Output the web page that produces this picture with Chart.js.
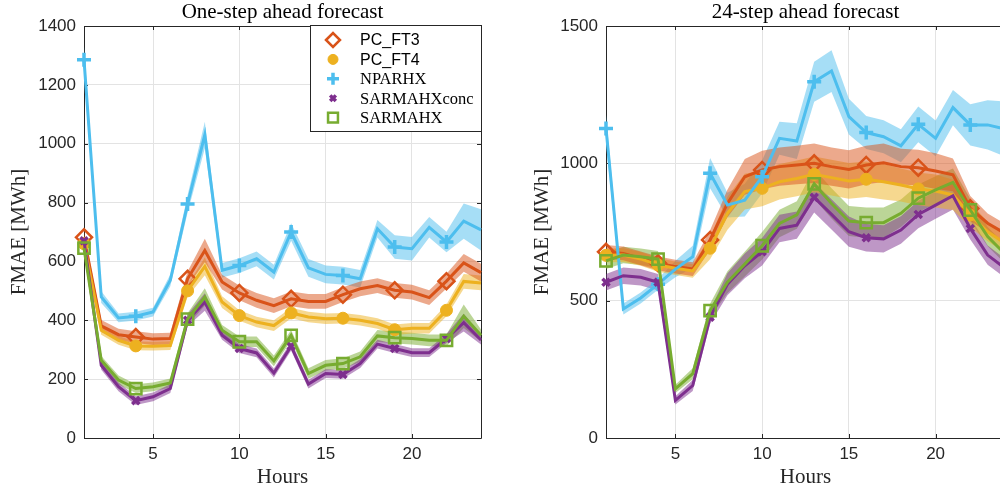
<!DOCTYPE html>
<html>
<head>
<meta charset="utf-8">
<script src="https://cdn.jsdelivr.net/npm/chart.js@4.4.1/dist/chart.umd.min.js"></script>
<style>
  html, body { margin: 0; padding: 0; background: #fff; overflow: hidden; }
  #wrap { position: relative; width: 1000px; height: 491px; overflow: hidden; }
  #left { position: absolute; left: 0; top: 0; }
  #right { position: absolute; left: 500px; top: 0; }
</style>
</head>
<body>
<div id="wrap">
  <canvas id="left" width="500" height="491"></canvas>
  <canvas id="right" width="520" height="491"></canvas>
</div>
<script>
// hours on the x axis
const hours = [1,2,3,4,5,6,7,8,9,10,11,12,13,14,15,16,17,18,19,20,21,22,23,24];
const xTicks = [5, 10, 15, 20];
const leftYTicks = [0, 200, 400, 600, 800, 1000, 1200, 1400];
const rightYTicks = [0, 500, 1000, 1500];
const seriesNames = ['PC_FT3', 'PC_FT4', 'NPARHX', 'SARMAHXconc', 'SARMAHX'];

// one-step ahead forecast (left)
const oneFT3   = [682,381,351,343,336,338,541,637,530,493,468,450,473,464,464,487,507,518,502,496,477,533,595,562];
const oneFT4   = [660,366,332,313,312,314,500,583,462,416,394,382,425,411,405,407,400,389,368,373,373,434,532,527];
const oneNPARHX= [1285,479,408,414,428,536,795,1030,570,586,609,564,700,578,556,552,541,711,649,643,716,666,737,707];
const oneConc  = [670,247,174,127,140,168,400,462,349,304,289,221,312,183,219,216,253,319,304,290,290,338,392,333];
const oneSAR   = [645,264,197,168,174,187,404,479,366,327,327,262,349,219,247,253,276,347,341,338,332,332,414,349];
// half width of the shaded bands (left)
const oneFT3Band   = [20,20,20,20,20,20,25,40,25,25,25,25,25,25,25,25,25,25,25,25,25,25,30,30];
const oneFT4Band   = [15,15,15,15,15,15,20,30,20,18,18,18,18,18,18,18,18,18,18,18,18,20,25,25];
const oneNPARHXBand= [45,20,15,15,15,20,30,45,25,25,25,25,30,30,30,30,30,30,40,40,35,35,60,70];
const oneConcBand  = [15,15,15,15,15,15,20,30,15,15,15,15,15,15,15,15,15,15,15,15,15,15,30,15];
const oneSARBand   = [15,15,15,15,15,15,20,30,18,18,18,18,18,18,18,18,18,20,20,20,20,20,40,20];

// 24-step ahead forecast (right)
const dayFT3   = [678,672,654,636,624,615,721,854,951,976,988,994,1000,988,978,994,1002,988,984,972,958,836,782,745];
const dayFT4   = [665,666,652,630,618,608,691,818,897,909,933,945,960,948,936,942,933,921,907,899,885,812,751,709];
const dayNPARHX= [1127,470,510,560,615,660,964,848,866,951,1091,1081,1297,1336,1170,1112,1097,1064,1142,1091,1203,1140,1140,1125];
const dayConc  = [567,591,585,567,137,191,440,560,627,678,763,775,876,814,751,729,725,757,814,848,882,763,666,618];
const daySAR   = [645,666,660,651,179,234,464,567,633,700,781,812,925,854,790,784,784,818,873,903,931,830,733,670];
// half width of the shaded bands (right)
const dayFT3Band   = [25,25,25,25,25,25,35,50,65,70,70,70,72,70,70,70,70,65,65,65,60,45,35,35];
const dayFT4Band   = [25,25,25,25,25,25,40,60,65,65,65,65,65,65,65,65,65,60,60,60,55,45,35,35];
const dayNPARHXBand= [50,20,20,20,30,40,55,45,60,60,60,65,73,76,65,60,60,60,65,65,64,75,90,100];
const dayConcBand  = [30,30,30,30,15,20,25,40,45,50,50,50,55,55,55,50,50,50,50,50,50,40,35,35];
const daySARBand   = [30,30,30,30,15,20,25,40,45,50,50,50,55,55,55,55,55,50,50,50,50,40,35,35];

const colors = ['#D95319', '#EDB120', '#4DBEEE', '#7E2F8E', '#77AC30'];
const markers = [
  { pointStyle: 'rectRot', radius: 8, fill: false, width: 2.5 },
  { pointStyle: 'circle', radius: 6, fill: true, width: 1 },
  { pointStyle: 'cross', radius: 7, fill: false, width: 3.5 },
  { pointStyle: 'crossRot', radius: 5, fill: false, width: 3.5 },
  { pointStyle: 'rect', radius: 8, fill: false, width: 2.5 }
];

const serif = '"Liberation Serif", "Times New Roman", serif';
const sans = '"Liberation Sans", Arial, sans-serif';

function rgba(hex, a) {
  const n = parseInt(hex.slice(1), 16);
  return `rgba(${n >> 16},${(n >> 8) & 255},${n & 255},${a})`;
}

function pts(vals) {
  return vals.map((v, i) => ({ x: hours[i], y: v }));
}

function buildDatasets(values, bands) {
  const sets = [];
  values.forEach((vals, k) => {
    const up = vals.map((v, i) => v + bands[k][i]);
    const lo = vals.map((v, i) => v - bands[k][i]);
    sets.push({ label: '_up' + k, data: pts(up), fill: '+1', backgroundColor: rgba(colors[k], 0.5),
      borderWidth: 0, pointRadius: 0, order: 20 + k });
    sets.push({ label: '_lo' + k, data: pts(lo), fill: false, borderWidth: 0, pointRadius: 0, order: 20 + k });
  });
  values.forEach((vals, k) => {
    const m = markers[k];
    sets.push({
      label: seriesNames[k], data: pts(vals), fill: false,
      borderColor: colors[k], borderWidth: 3, tension: 0, clip: false,
      pointStyle: m.pointStyle,
      pointRadius: ctx => (ctx.dataIndex % 3 === 0 ? m.radius : 0),
      pointBorderWidth: m.width,
      pointBorderColor: colors[k],
      pointBackgroundColor: m.fill ? colors[k] : 'rgba(0,0,0,0)',
      order: 10 - k
    });
  });
  return sets;
}

const frame = {
  id: 'frame',
  beforeDatasetsDraw(chart) {
    const { ctx, chartArea: a, scales: { x, y } } = chart;
    ctx.save();
    ctx.strokeStyle = '#262626';
    ctx.lineWidth = 1;
    ctx.beginPath();
    ctx.rect(Math.round(a.left) + 0.5, Math.round(a.top) + 0.5, Math.round(a.width), Math.round(a.height));
    x.ticks.forEach(t => {
      const p = Math.round(x.getPixelForValue(t.value)) + 0.5;
      ctx.moveTo(p, a.bottom); ctx.lineTo(p, a.bottom - 4);
      ctx.moveTo(p, a.top); ctx.lineTo(p, a.top + 4);
    });
    y.ticks.forEach(t => {
      const p = Math.round(y.getPixelForValue(t.value)) + 0.5;
      ctx.moveTo(a.left, p); ctx.lineTo(a.left + 4, p);
      ctx.moveTo(a.right, p); ctx.lineTo(a.right - 4, p);
    });
    ctx.stroke();
    ctx.restore();
  },
  afterDraw(chart, args, opts) {
    const { ctx, chartArea: a } = chart;
    ctx.save();
    ctx.fillStyle = '#000';
    ctx.font = '21px ' + serif;
    ctx.textAlign = 'center';
    ctx.textBaseline = 'middle';
    ctx.fillText(opts.title, (a.left + a.right) / 2, 12);
    if (opts.legend) {
      const bx = 310, by = 25, bw = a.right - 310, bh = 106;
      ctx.fillStyle = '#fff';
      ctx.fillRect(bx, by, bw, bh);
      ctx.strokeStyle = '#262626';
      ctx.lineWidth = 1;
      ctx.strokeRect(bx + 0.5, by + 0.5, bw, bh);
      seriesNames.forEach((name, k) => {
        const ry = 40 + k * 19.4;
        const m = markers[k];
        ctx.strokeStyle = colors[k];
        ctx.fillStyle = m.fill ? colors[k] : 'rgba(0,0,0,0)';
        ctx.lineWidth = m.width;
        Chart.helpers.drawPoint(ctx, { pointStyle: m.pointStyle, radius: m.radius - 1, rotation: 0, borderWidth: m.width }, 333, ry);
        ctx.fillStyle = '#000';
        ctx.textAlign = 'left';
        ctx.font = (k < 2 ? '16px ' + sans : '16.5px ' + serif);
        ctx.fillText(name, 360, ry + 1);
      });
    }
    ctx.restore();
  }
};

function makeChart(id, values, bands, yTicks, yMax, title, legend, yWidth, titlePad, padRight) {
  return new Chart(document.getElementById(id), {
    type: 'line',
    data: { datasets: buildDatasets(values, bands) },
    options: {
      responsive: false,
      animation: false,
      events: [],
      layout: { padding: { top: 26, right: padRight, left: 0, bottom: 0 } },
      plugins: {
        legend: { display: false },
        tooltip: { enabled: false },
        frame: { title: title, legend: legend }
      },
      scales: {
        x: {
          type: 'linear', min: 1, max: 24,
          afterBuildTicks: s => { s.ticks = xTicks.map(v => ({ value: v })); },
          afterFit: s => { s.height = 53; },
          grid: { color: '#e3e3e3', drawTicks: false },
          border: { display: false },
          ticks: { font: { family: sans, size: 17 }, color: '#262626', padding: 6, maxRotation: 0, callback: v => String(v) },
          title: { display: true, text: 'Hours', font: { family: serif, size: 21 }, color: '#262626', padding: { top: 0, bottom: 1 } }
        },
        y: {
          min: 0, max: yMax,
          afterBuildTicks: s => { s.ticks = yTicks.map(v => ({ value: v })); },
          afterFit: s => { s.width = yWidth; },
          grid: { color: '#e3e3e3', drawTicks: false },
          border: { display: false },
          ticks: { font: { family: sans, size: 17 }, color: '#262626', padding: 8, callback: v => String(v) },
          title: { display: true, text: 'FMAE [MWh]', font: { family: serif, size: 21 }, color: '#262626', padding: titlePad }
        }
      }
    },
    plugins: [frame]
  });
}

makeChart('left', [oneFT3, oneFT4, oneNPARHX, oneConc, oneSAR],
  [oneFT3Band, oneFT4Band, oneNPARHXBand, oneConcBand, oneSARBand],
  leftYTicks, 1400, 'One-step ahead forecast', true, 84, 7, 19);

makeChart('right', [dayFT3, dayFT4, dayNPARHX, dayConc, daySAR],
  [dayFT3Band, dayFT4Band, dayNPARHXBand, dayConcBand, daySARBand],
  rightYTicks, 1500, '24-step ahead forecast', false, 106, 30, 15);
</script>
</body>
</html>
